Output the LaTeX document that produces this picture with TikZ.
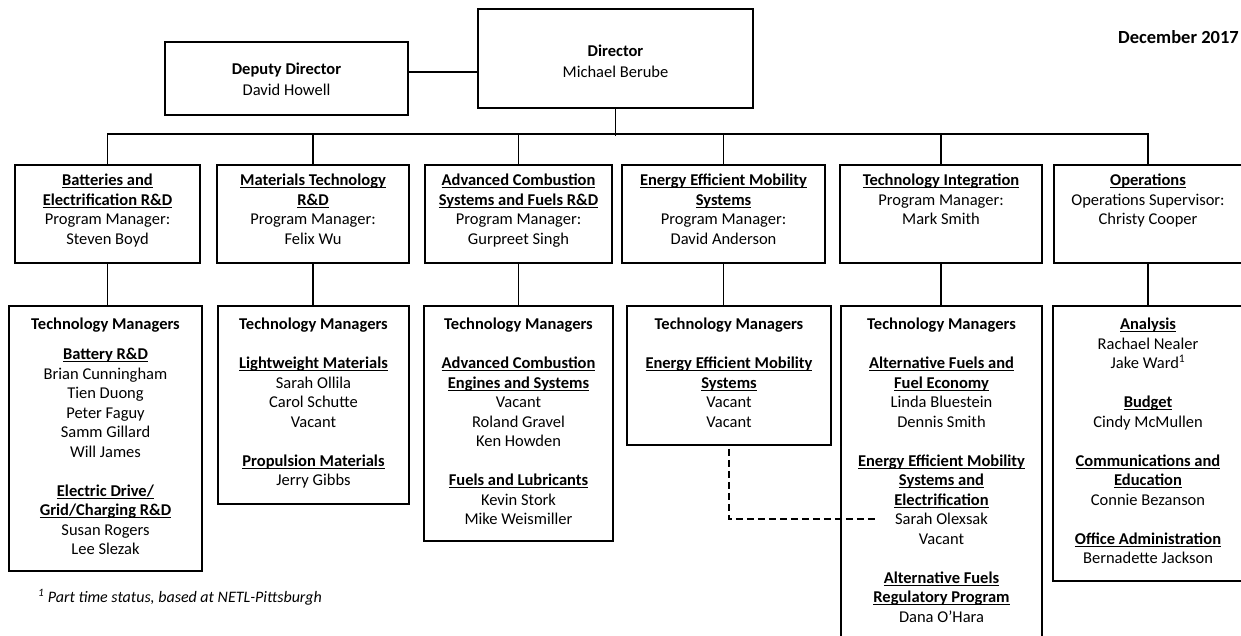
\documentclass[tikz,border=0pt]{standalone}
\usepackage{fontspec}
\setmainfont{Carlito}
\newcommand\hd[1]{\underline{\raisebox{0pt}[\height][0pt]{\textbf{#1}}}}
\begin{document}
\begin{tikzpicture}[x=1pt,y=-1pt,
  box/.style={draw, line width=1.8pt, inner sep=0pt, rectangle},
  txt/.style={align=center, inner sep=0pt, anchor=north, font=\fontsize{16.5}{19.5}\selectfont},
  toptxt/.style={align=center, inner sep=0pt, font=\fontsize{16.5}{21}\selectfont},
  link/.style={line width=1.8pt}]
\useasboundingbox (0,0) rectangle (1241,636);
% top level
\node[box, minimum width=243, minimum height=73] (dep) at (286.5,78.5) {};
\node[box, minimum width=275, minimum height=99] (dir) at (615.5,58.5) {};
\node[toptxt] (deptxt) at ([yshift=-1pt]dep.center) {\textbf{Deputy Director}\\David Howell};
\node[toptxt] (dirtxt) at ([yshift=-2.5pt]dir.center) {\textbf{Director}\\Michael Berube};
\node[anchor=east, inner sep=0pt, font=\fontsize{18.5}{21}\selectfont\bfseries] (date) at (1239,37) {December 2017};
\draw[link] (dep.east |- 0,72) -- (dir.west |- 0,72);
% level 2 boxes
\node[box, minimum width=185, minimum height=98] (b1) at (107.5,214) {};
\node[box, minimum width=192, minimum height=98] (b2) at (313,214) {};
\node[box, minimum width=187, minimum height=98] (b3) at (518.5,214) {};
\node[box, minimum width=203, minimum height=98] (b4) at (723.5,214) {};
\node[box, minimum width=202, minimum height=98] (b5) at (941,214) {};
\node[box, minimum width=188, minimum height=98] (b6) at (1148,214) {};
\node[txt] (p1) at ([yshift=-10pt]b1.north) {\hd{Batteries and}\\\hd{Electrification R\&D}\\Program Manager:\\Steven Boyd};
\node[txt] (p2) at ([yshift=-10pt]b2.north) {\hd{Materials Technology}\\\hd{R\&D}\\Program Manager:\\Felix Wu};
\node[txt] (p3) at ([yshift=-10pt]b3.north) {\hd{Advanced Combustion}\\\hd{Systems and Fuels R\&D}\\Program Manager:\\Gurpreet Singh};
\node[txt] (p4) at ([yshift=-10pt]b4.north) {\hd{Energy Efficient Mobility}\\\hd{Systems}\\Program Manager:\\David Anderson};
\node[txt] (p5) at ([yshift=-10pt]b5.north) {\hd{Technology Integration}\\Program Manager:\\Mark Smith};
\node[txt] (p6) at ([yshift=-10pt]b6.north) {\hd{Operations}\\Operations Supervisor:\\Christy Cooper};
% bus
\draw[link] (dir.south) -- ++(0,27);
\draw[link] (b1.north) -- ++(0,-30) -| (b6.north);
\draw[link] (b2.north) -- ++(0,-30);
\draw[link] (b3.north) -- ++(0,-30);
\draw[link] (b4.north) -- ++(0,-30);
\draw[link] (b5.north) -- ++(0,-30);
% level 3 boxes
\node[box, minimum width=193, minimum height=265] (l1) at (105.5,438.5) {};
\node[box, minimum width=191, minimum height=198] (l2) at (313.5,405) {};
\node[box, minimum width=189, minimum height=235] (l3) at (518.5,423.5) {};
\node[box, minimum width=204, minimum height=139] (l4) at (729,375.5) {};
\node[box, minimum width=201, minimum height=354] (l5) at (941.5,483) {};
\node[box, minimum width=190, minimum height=275] (l6) at (1148,443.5) {};
\node[txt] (q1) at ([yshift=-13pt]l1.north) {\textbf{Technology Managers}\\[10.5pt]\hd{Battery R\&D}\\Brian Cunningham\\Tien Duong\\Peter Faguy\\Samm Gillard\\Will James\\[19.5pt]\hd{Electric Drive/}\\\hd{Grid/Charging R\&D}\\Susan Rogers\\Lee Slezak};
\node[txt] (q2) at ([yshift=-13pt]l2.north) {\textbf{Technology Managers}\\[19.5pt]\hd{Lightweight Materials}\\Sarah Ollila\\Carol Schutte\\Vacant\\[19.5pt]\hd{Propulsion Materials}\\Jerry Gibbs};
\node[txt] (q3) at ([yshift=-13pt]l3.north) {\textbf{Technology Managers}\\[19.5pt]\hd{Advanced Combustion}\\\hd{Engines and Systems}\\Vacant\\Roland Gravel\\Ken Howden\\[19.5pt]\hd{Fuels and Lubricants}\\Kevin Stork\\Mike Weismiller};
\node[txt] (q4) at ([yshift=-13pt]l4.north) {\textbf{Technology Managers}\\[19.5pt]\hd{Energy Efficient Mobility}\\\hd{Systems}\\Vacant\\Vacant};
\node[txt] (q5) at ([yshift=-13pt]l5.north) {\textbf{Technology Managers}\\[19.5pt]\hd{Alternative Fuels and}\\\hd{Fuel Economy}\\Linda Bluestein\\Dennis Smith\\[19.5pt]\hd{Energy Efficient Mobility}\\\hd{Systems and}\\\hd{Electrification}\\Sarah Olexsak\\Vacant\\[19.5pt]\hd{Alternative Fuels}\\\hd{Regulatory Program}\\Dana O’Hara};
\node[txt] (q6) at ([yshift=-13pt]l6.north) {\hd{Analysis}\\Rachael Nealer\\Jake Ward\textsuperscript{1}\\[19.5pt]\hd{Budget}\\Cindy McMullen\\[19.5pt]\hd{Communications and}\\\hd{Education}\\Connie Bezanson\\[19.5pt]\hd{Office Administration}\\Bernadette Jackson};
% level 2 to level 3
\draw[link] (b1.south) -- (b1.south |- l1.north);
\draw[link] (b2.south) -- (b2.south |- l2.north);
\draw[link] (b3.south) -- (b3.south |- l3.north);
\draw[link] (b4.south) -- (b4.south |- l4.north);
\draw[link] (b5.south) -- (b5.south |- l5.north);
\draw[link] (b6.south) -- (b6.south |- l6.north);
% dashed
\coordinate (dashend) at (876,519);
\draw[line width=1.8pt, dash pattern=on 7pt off 4pt] ([yshift=-3pt]l4.south) |- (dashend);
% footnote
\node[anchor=west, inner sep=0pt, font=\fontsize{16}{19}\selectfont\itshape] (note) at (38,597) {\textsuperscript{1} Part time status, based at NETL-Pittsburgh};
\end{tikzpicture}
\end{document}
